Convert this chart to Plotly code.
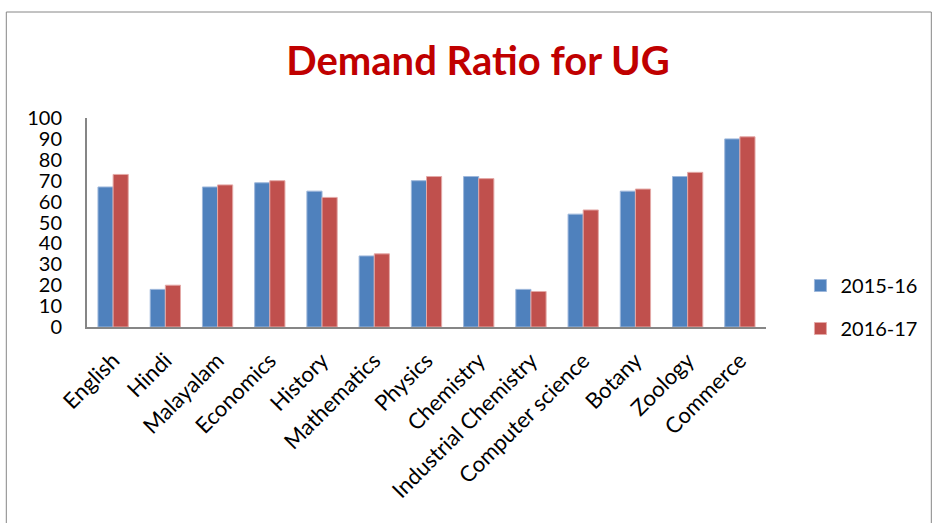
import plotly.graph_objects as go

categories = ["English", "Hindi", "Malayalam", "Economics", "History", "Mathematics",
              "Physics", "Chemistry", "Industrial Chemistry", "Computer science",
              "Botany", "Zoology", "Commerce"]
values_2015_16 = [67, 18, 67, 69, 65, 34, 70, 72, 18, 54, 65, 72, 90]
values_2016_17 = [73, 20, 68, 70, 62, 35, 72, 71, 17, 56, 66, 74, 91]
y_ticks = [0, 10, 20, 30, 40, 50, 60, 70, 80, 90, 100]

W, H = 935, 523
L, R, T, B = 87, 158, 118, 196
pw, ph = W - L - R, H - T - B

def px(x):
    return (x - L) / pw

def py(y):
    return (H - B - y) / ph

FONT = "Lato, Open Sans, sans-serif"

fig = go.Figure()
fig.add_trace(go.Bar(x=categories, y=values_2015_16, name="2015-16",
                     marker=dict(color="#4F81BD", line=dict(color="#9DB7DB", width=1)),
                     legendgroup="a"))
fig.add_trace(go.Bar(x=categories, y=values_2016_17, name="2016-17",
                     marker=dict(color="#C0504D", line=dict(color="#E4A9A7", width=1)),
                     legendgroup="b"))

fig.update_layout(
    width=W, height=H,
    margin=dict(l=L, r=R, t=T, b=B),
    paper_bgcolor="white", plot_bgcolor="white",
    font=dict(family=FONT, color="black"),
    title=dict(text="<b>Demand Ratio for UG</b>", x=478 / W, xanchor="center",
               y=1 - 61 / H, yanchor="middle",
               font=dict(size=40, color="#C00000", family=FONT)),
    barmode="group", bargap=0.42, bargroupgap=0,
    showlegend=True,
    legend=dict(x=px(812), y=py(266), xanchor="left", yanchor="top",
                font=dict(size=20), tracegroupgap=14, bgcolor="rgba(0,0,0,0)"),
    xaxis=dict(showline=True, linecolor="#868686", linewidth=2, tickangle=-45,
               tickfont=dict(size=22), showgrid=False, ticks="",
               ticklabelstandoff=10),
    yaxis=dict(range=[0, 100], tickvals=y_ticks, showline=True, linecolor="#868686",
               linewidth=2, showgrid=False, zeroline=False, ticks="",
               tickfont=dict(size=20), ticklabelstandoff=19),
    shapes=[dict(type="rect", xref="paper", yref="paper",
                 x0=px(5), x1=px(945), y0=py(535), y1=py(12),
                 line=dict(color="#868686", width=1), layer="below")],
)

fig.write_html("out.html", config={"displayModeBar": False},
               post_script="document.body.style.margin='0';")
